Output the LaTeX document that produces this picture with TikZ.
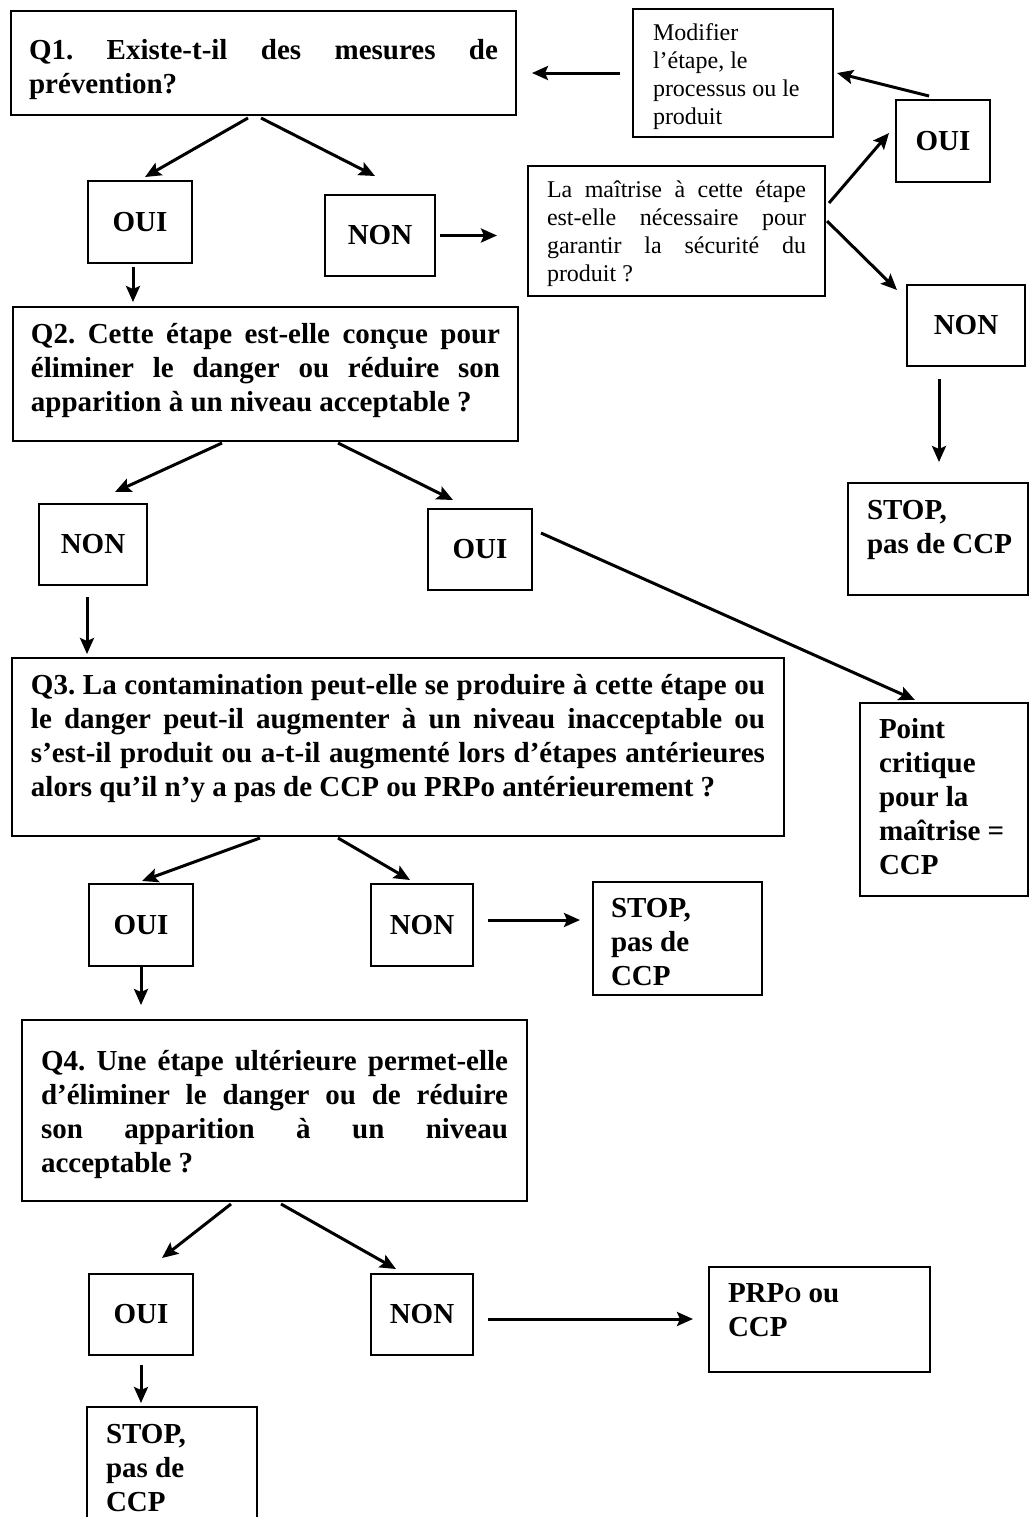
\documentclass[tikz,border=0pt]{standalone}
\usepackage{fontspec}
\setmainfont{Liberation Serif}
\usetikzlibrary{calc,arrows.meta,positioning}

\newcommand{\grasq}{\bfseries\fontsize{14.5}{17}\selectfont\frenchspacing}
\newcommand{\texten}{\fontsize{12}{14}\selectfont\frenchspacing}

\begin{document}
\begin{tikzpicture}[x=0.5pt,y=-0.5pt,
    cadre/.style={draw, line width=1pt, anchor=north west, inner ysep=0pt},
    question/.style={cadre, font=\grasq, align=justify},
    reponse/.style={cadre, font=\grasq, inner sep=0pt, align=center},
    fleche/.style={-{Stealth[length=8pt,width=7pt,inset=1.5pt]}, line width=1.5pt}]
        \clip (0,0) rectangle (1029,1517);

        % questions
        \node[question, text width=234.5pt, inner xsep=9pt, text height=24pt, text depth=28pt] (q1) at (10,10)
            {Q1. Existe-t-il des mesures de\linebreak prévention?};
        \node[question, text width=234.5pt, inner xsep=9pt, text height=18pt, text depth=49pt] (q2) at (12,306)
            {Q2. Cette étape est-elle conçue pour\linebreak éliminer le danger ou réduire son\linebreak apparition à un niveau acceptable~?};
        \node[question, text width=367pt, inner xsep=9.5pt, text height=18pt, text depth=71pt] (q3) at (11,657)
            {Q3. La contamination peut-elle se produire à cette étape ou\linebreak le danger peut-il augmenter à un niveau inacceptable ou\linebreak s’est-il produit ou a-t-il augmenté lors d’étapes antérieures\linebreak alors qu’il n’y a pas de CCP ou PRPo antérieurement~?};
        \node[question, text width=233.5pt, inner xsep=9.5pt, text height=25pt, text depth=65.5pt] (q4) at (21,1019)
            {Q4. Une étape ultérieure permet-elle\linebreak d’éliminer le danger ou de réduire\linebreak son apparition à un niveau\linebreak acceptable~?};

        % branche de droite
        \node[cadre, font=\texten, align=flush left, text width=80pt, inner xsep=10pt, text height=15.5pt, text depth=48.5pt] (modif) at (632,8)
            {Modifier\\l’étape, le\\processus ou le\\produit};
        \node[cadre, font=\texten, align=justify, text width=129.5pt, inner xsep=9.5pt, text height=15.5pt, text depth=49.5pt] (maitrise) at (527,165)
            {La maîtrise à cette étape\linebreak est-elle nécessaire pour\linebreak garantir la sécurité du\linebreak produit~?};
        \node[reponse, minimum width=47pt, minimum height=41pt] (ouiR) at (895,99) {OUI};
        \node[reponse, minimum width=59pt, minimum height=40.5pt] (nonR) at (906,284) {NON};
        \node[cadre, font=\grasq, align=flush left, text width=71pt, inner xsep=9.5pt, text height=18pt, text depth=38pt] (stopR) at (847,482)
            {STOP,\\\mbox{pas de CCP}};

        % reponses
        \node[reponse, minimum width=52pt, minimum height=41pt] (oui1) at (87,180) {OUI};
        \node[reponse, minimum width=55pt, minimum height=40.5pt] (non1) at (324,194) {NON};
        \node[reponse, minimum width=54pt, minimum height=40.5pt] (non2) at (38,503) {NON};
        \node[reponse, minimum width=52pt, minimum height=40.5pt] (oui2) at (427,508) {OUI};
        \node[reponse, minimum width=52pt, minimum height=41pt] (oui3) at (88,883) {OUI};
        \node[reponse, minimum width=51pt, minimum height=41pt] (non3) at (370,883) {NON};
        \node[reponse, minimum width=52pt, minimum height=40.5pt] (oui4) at (88,1273) {OUI};
        \node[reponse, minimum width=51pt, minimum height=40.5pt] (non4) at (370,1273) {NON};

        % issues
        \node[cadre, font=\grasq, align=flush left, text width=65pt, inner xsep=9.5pt, text height=17.5pt, text depth=79pt] (critique) at (859,702)
            {Point\\critique\\pour la\\\mbox{maîtrise =}\\CCP};
        \node[cadre, font=\grasq, align=flush left, text width=66.5pt, inner xsep=9pt, text height=17.5pt, text depth=39pt] (stop3) at (592,881)
            {STOP,\\pas de\\CCP};
        \node[cadre, font=\grasq, align=flush left, text width=91.5pt, inner xsep=9.5pt, text height=17.5pt, text depth=35pt] (prpo) at (708,1266)
            {PRP{\fontsize{11}{17}\selectfont O} ou\\CCP};
        \node[cadre, font=\grasq, align=flush left, text width=66pt, inner xsep=9.5pt, text height=18pt, text depth=44pt] (stop4) at (86,1406)
            {STOP,\\pas de\\CCP};

        % fleches
        \draw[fleche] ($(q1.south west)+(238,2)$) -- ($(oui1.north west)+(58,-3)$);
        \draw[fleche] ($(q1.south west)+(251,2)$) -- ($(non1.north west)+(51,-18)$);
        \draw[fleche] ($(non1.east)+(4,0)$) -- ($(non1.east -| maitrise.west)+(-30,0)$);
        \draw[fleche] ($(maitrise.north east)+(3,38)$) -- ($(ouiR.north west)+(-6,34)$);
        \draw[fleche] ($(maitrise.north east)+(1,56)$) -- ($(nonR.north west)+(-9,6)$);
        \draw[fleche] ($(ouiR.north west)+(34,-3)$) -- ($(modif.north east)+(3,65)$);
        \draw[fleche] ($(modif.north west)+(-12,65)$) -- ($(q1.north east)+(15,63)$);
        \draw[fleche] ($(nonR.south west)+(33,12)$) -- ($(stopR.north west)+(92,-20)$);
        \draw[fleche] ($(oui1.south west)+(46,3)$) -- ($(q2.north west)+(121,-4)$);
        \draw[fleche] ($(q2.south west)+(210,1)$) -- ($(non2.north west)+(77,-11)$);
        \draw[fleche] ($(q2.south west)+(326,1)$) -- ($(oui2.north west)+(26,-8)$);
        \draw[fleche] ($(non2.south west)+(49,11)$) -- ($(q3.north west)+(76,-3)$);
        \draw[fleche] ($(oui2.north east)+(8,25)$) -- ($(critique.north west)+(56,-2)$);
        \draw[fleche] ($(q3.south west)+(249,1)$) -- ($(oui3.north west)+(54,-2)$);
        \draw[fleche] ($(q3.south west)+(327,1)$) -- ($(non3.north west)+(40,-3)$);
        \draw[fleche] ($(non3.north east)+(14,37)$) -- ($(stop3.north west)+(-12,39)$);
        \draw[fleche] ($(oui3.south west)+(53,-1)$) -- ($(q4.north west)+(120,-14)$);
        \draw[fleche] ($(q4.south west)+(210,2)$) -- ($(oui4.north west)+(74,-15)$);
        \draw[fleche] ($(q4.south west)+(260,2)$) -- ($(non4.north west)+(26,-4)$);
        \draw[fleche] ($(non4.north east)+(14,46)$) -- ($(prpo.north west)+(-15,53)$);
        \draw[fleche] ($(oui4.south west)+(53,9)$) -- ($(stop4.north west)+(55,-3)$);
\end{tikzpicture}
\end{document}
